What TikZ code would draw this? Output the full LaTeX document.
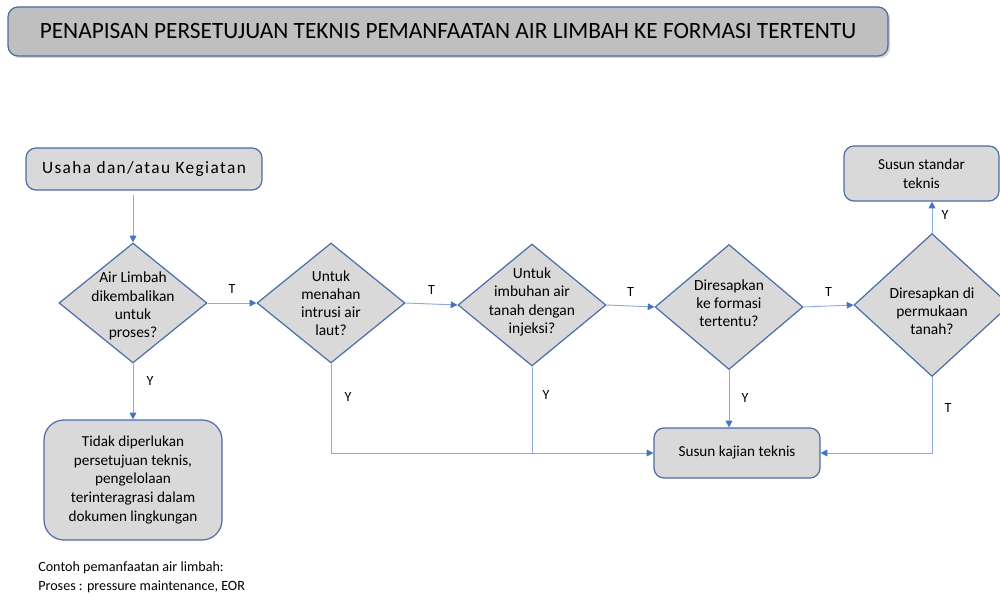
\documentclass[tikz,border=0pt]{standalone}
\usepackage{fontspec}
\setmainfont{Carlito}
\usetikzlibrary{shapes.geometric,arrows.meta,shadows}
\definecolor{bord}{HTML}{4A6DA7}
\definecolor{lnk}{HTML}{8EA9DB}
\definecolor{tip}{HTML}{4472C4}
\definecolor{boxfill}{HTML}{D9D9D9}
\definecolor{titlefill}{HTML}{BFBFBF}
\tikzset{
  box/.style={draw=bord, line width=0.9pt, fill=boxfill, rounded corners=7.5pt, align=center, inner sep=0pt, font=\fontsize{11.4}{14.2}\selectfont},
  dia/.style={draw=bord, line width=0.9pt, fill=boxfill, diamond, inner sep=0pt},
  dtext/.style={align=center, inner sep=0pt, font=\fontsize{11.6}{13.6}\selectfont},
  conn/.style={draw=lnk, line width=0.7pt},
  arr/.style={conn, -{Triangle[width=5pt,length=5pt,fill=tip,color=tip]}},
  lab/.style={inner sep=0pt, font=\fontsize{10.5}{12}\selectfont}
}
\begin{document}
\begin{tikzpicture}[x=0.75pt,y=-0.75pt]
\useasboundingbox (0,0) rectangle (1000,595);
% title
\node[box, fill=titlefill, drop shadow={shadow xshift=1.5pt, shadow yshift=-1.5pt, opacity=0.35}, minimum width=880*0.75pt, minimum height=49*0.75pt, font=\fontsize{17.5}{20}\selectfont] (title) at (448,31.5) {PENAPISAN PERSETUJUAN TEKNIS PEMANFAATAN AIR LIMBAH KE FORMASI TERTENTU};
% start box
\node[box, minimum width=236*0.75pt, minimum height=42*0.75pt, font=\fontsize{13}{15}\selectfont\addfontfeature{LetterSpace=8}] (usaha) at (144,169) {Usaha dan/atau Kegiatan};
% diamonds
\node[dia, minimum width=148*0.75pt, minimum height=120*0.75pt] (d1) at (133,303) {};
\node[dtext] (d1t) at (133,306) {Air Limbah\\dikembalikan\\untuk\\proses?};
\node[dia, minimum width=148*0.75pt, minimum height=120*0.75pt] (d2) at (331,303) {};
\node[dtext] (d2t) at (331,303) {Untuk\\menahan\\intrusi air\\laut?};
\node[dia, minimum width=148*0.75pt, minimum height=122*0.75pt] (d3) at (532,305) {};
\node[dtext] (d3t) at (532,302) {Untuk\\imbuhan air\\tanah dengan\\injeksi?};
\node[dia, minimum width=148*0.75pt, minimum height=125*0.75pt] (d4) at (729,307) {};
\node[dtext] (d4t) at (729,303) {Diresapkan\\ke formasi\\tertentu?};
\node[dia, minimum width=156*0.75pt, minimum height=143*0.75pt] (d5) at (932,305) {};
\node[dtext] (d5t) at (932,311) {Diresapkan di\\permukaan\\tanah?};
% boxes
\node[box, minimum width=155*0.75pt, minimum height=55*0.75pt] (standar) at (921.5,173.5) {Susun standar\\teknis};
\node[box, minimum width=166*0.75pt, minimum height=50*0.75pt] (kajian) at (737,453) {Susun kajian teknis};
\node[box, rounded corners=15pt, minimum width=178*0.75pt, minimum height=120*0.75pt] (tidak) at (133,480) {Tidak diperlukan\\persetujuan teknis,\\pengelolaan\\terinteragrasi dalam\\dokumen lingkungan};
% connectors
\coordinate (u0) at (133,195);
\draw[arr] (u0) -- (d1.north);
\draw[arr] (d1.east) -- node[lab, above=7pt] (t1) {T} (d2.west);
\draw[arr] (d2.east) -- node[lab, above=7pt] (t2) {T} (d3.west);
\draw[arr] (d3.east) -- node[lab, above=7pt] (t3) {T} (d4.west);
\draw[arr] (d4.east) -- node[lab, above=7pt] (t4) {T} (d5.west);
\draw[arr] (d1.south) -- (tidak.north);
\node[lab] (y1) at (150,381) {Y};
\draw[arr] (d2.south) |- (kajian.west);
\draw[conn] (d3.south) -- (d3.south |- kajian.west);
\node[lab] (y2) at (348,397) {Y};
\node[lab] (y3) at (546,395) {Y};
\draw[arr] (d4.south) -- (d4.south |- kajian.north);
\node[lab] (y4) at (745,398) {Y};
\draw[arr] (d5.south) |- (kajian.east);
\node[lab] (t5) at (948,408) {T};
\draw[arr] (d5.north) -- (d5.north |- standar.south);
\node[lab] (y5) at (945,215) {Y};
% note
\node[anchor=west, align=left, inner sep=0pt, font=\fontsize{10.6}{14.2}\selectfont] (note) at (38,577) {Contoh pemanfaatan air limbah:\\Proses : pressure maintenance, EOR};
\end{tikzpicture}
\end{document}
